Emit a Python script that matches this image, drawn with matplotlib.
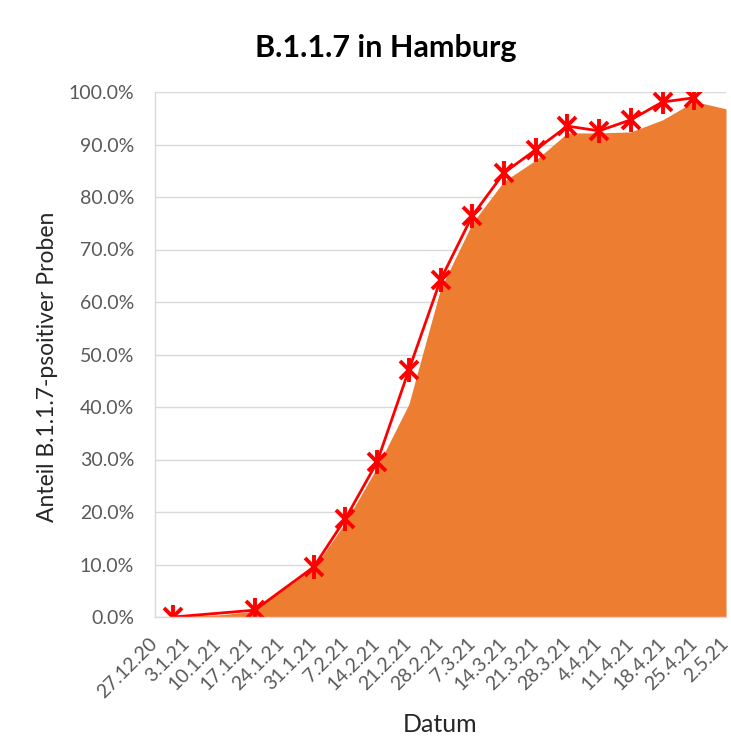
import matplotlib
matplotlib.use("Agg")
import matplotlib.pyplot as plt
import pandas as pd
from matplotlib.ticker import FuncFormatter, MultipleLocator

# ---- data ----
categories = ["27.12.20", "3.1.21", "10.1.21", "17.1.21", "24.1.21", "31.1.21",
              "7.2.21", "14.2.21", "21.2.21", "28.2.21", "7.3.21", "14.3.21",
              "21.3.21", "28.3.21", "4.4.21", "11.4.21", "18.4.21", "25.4.21", "2.5.21"]
area_values = [0.0, 0.2, 0.4, 1.0, 5.0, 9.3, 18.0, 28.5, 40.5, 62.5, 75.0, 83.0,
               87.0, 92.2, 92.2, 92.4, 94.7, 98.2, 96.8]

line_dates = ["31.12.20", "18.1.21", "31.1.21", "7.2.21", "14.2.21", "21.2.21",
              "28.2.21", "7.3.21", "14.3.21", "21.3.21", "28.3.21", "4.4.21",
              "11.4.21", "18.4.21", "25.4.21"]
line_values = [0.0, 1.3, 9.5, 18.7, 29.5, 47.0, 64.2, 76.4, 84.6, 89.0, 93.5,
               92.6, 94.7, 98.1, 98.9]

title = "B.1.1.7 in Hamburg"
ylabel = "Anteil B.1.1.7-psoitiver Proben"
xlabel = "Datum"

# ---- plot ----
plt.rcParams['font.family'] = ['Lato', 'DejaVu Sans']

cat_dates = pd.to_datetime(categories, format="%d.%m.%y")
ln_dates = pd.to_datetime(line_dates, format="%d.%m.%y")

fig = plt.figure(figsize=(7.31, 7.47), dpi=100)
ax = fig.add_axes([155/731, 1-617/747, (726-155)/731, (617-92)/747])

ax.fill_between(cat_dates, area_values, 0, color="#ED7D31", linewidth=0, zorder=2)
ax.plot(ln_dates, line_values, color="#FF0000", linewidth=2, zorder=3)
ax.plot(ln_dates, line_values, linestyle="none", marker="x", markersize=13,
        markeredgewidth=2.8, color="#FF0000", zorder=4)
ax.plot(ln_dates, line_values, linestyle="none", marker="|", markersize=17,
        markeredgewidth=2.8, color="#FF0000", zorder=4)

ax.set_xlim(cat_dates[0], cat_dates[-1])
ax.set_ylim(0, 100)
ax.set_xticks(cat_dates)
ax.set_xticklabels(categories, rotation=45, ha="right", va="center",
                   rotation_mode="anchor", fontsize=14, color="#595959")
ax.yaxis.set_major_locator(MultipleLocator(10))
ax.yaxis.set_major_formatter(FuncFormatter(lambda v, p: f"{v:.1f}%"))
ax.tick_params(axis="y", length=0, labelsize=14, labelcolor="#595959", pad=15)
ax.tick_params(axis="x", length=0, pad=17)
ax.grid(axis="y", color="#D9D9D9", linewidth=1, zorder=0)
ax.set_axisbelow(True)
for s in ["top", "right"]:
    ax.spines[s].set_visible(False)
for s in ["left", "bottom"]:
    ax.spines[s].set_color("#D9D9D9")
    ax.spines[s].set_linewidth(1)
ax.spines["bottom"].set_zorder(5)

fig.text(386/731, 1-48/747, title, ha="center", va="center", fontsize=22,
         fontweight="bold", color="#000000")
fig.text(48/731, 1-367/747, ylabel, ha="center", va="center", rotation=90,
         fontsize=16.5, color="#262626")
fig.text(440/731, 1-725/747, xlabel, ha="center", va="center",
         fontsize=18, color="#262626")

fig.savefig("out.png", dpi=100)
